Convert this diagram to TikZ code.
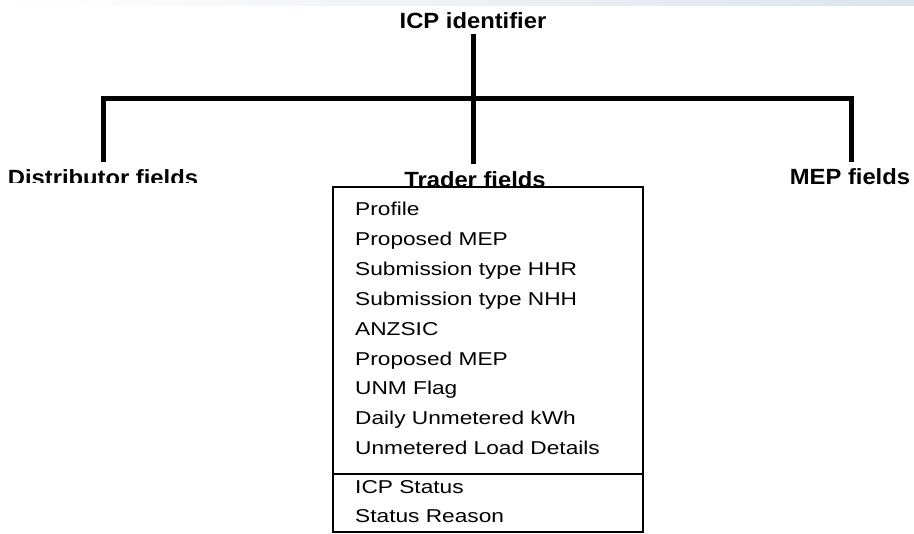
\documentclass[tikz,border=0pt]{standalone}
\usepackage{fontspec}
\setmainfont{Liberation Sans}
\newfontfamily\headfont[FakeStretch=1.08]{Liberation Sans}
\newfontfamily\itemfont[FakeStretch=1.22]{Liberation Sans}
\definecolor{bandblue}{HTML}{DCE4EC}
\begin{document}
\begin{tikzpicture}[x=1pt,y=1pt,
  tree/.style={line width=5pt},
  heading/.style={font=\headfont\fontsize{22}{24}\selectfont\bfseries, inner sep=0pt, anchor=base},
  item/.style={font=\itemfont\fontsize{18.6}{20}\selectfont, inner sep=0pt, anchor=base west},
  boxline/.style={line width=2.5pt}]
\useasboundingbox (0,0) rectangle (914,-534);
\shade[left color=white, right color=bandblue] (0,0) rectangle (914,-6);
% heading nodes
\node[heading] (icp) at (473,-29) {ICP identifier};
\begin{scope}
\clip (0,-150) rectangle (300,-183);
\node[heading] (dist) at (103,-186) {Distributor fields};
\end{scope}
\node[heading] (trader) at (475,-187.5) {Trader fields};
\node[heading] (mep) at (850,-184.5) {MEP fields};
% tree connectors
\coordinate (top) at (473,-34);
\coordinate (jm) at (473,-99);
\coordinate (jl) at (103,-99);
\coordinate (jr) at (851,-99);
\coordinate (el) at (103,-162);
\coordinate (em) at (473,-164);
\coordinate (er) at (851,-162);
\draw[tree] (top) -- (jm);
\draw[tree,line cap=rect] (jl) -- (jr);
\draw[tree] (jl) -- (el);
\draw[tree] (jr) -- (er);
\draw[tree] (jm) -- (em);
% box
\coordinate (bnw) at (333,-187);
\coordinate (bse) at (643,-532);
\coordinate (dw) at (333,-474);
\coordinate (de) at (643,-474);
\draw[boxline] (bnw) rectangle (bse);
\draw[boxline] (dw) -- (de);
\foreach \t [count=\i from 0] in {Profile, Proposed MEP, Submission type HHR, Submission type NHH, ANZSIC, Proposed MEP, UNM Flag, Daily Unmetered kWh, Unmetered Load Details}
  \node[item] (l\i) at (355,{-215.7-\i*29.875}) {\t};
\node[item] (s1) at (355,-493.5) {ICP Status};
\node[item] (s2) at (355,-522.5) {Status Reason};
\end{tikzpicture}
\end{document}
